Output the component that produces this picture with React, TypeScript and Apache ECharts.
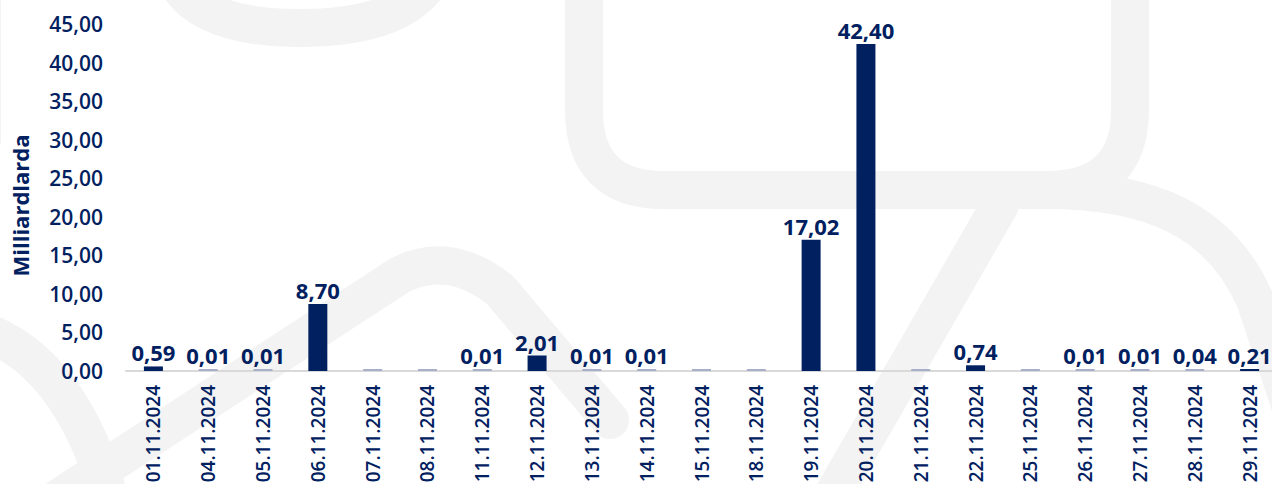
import React, { useEffect, useRef } from "react";
import * as echarts from "echarts";

const categories = [
  "01.11.2024", "04.11.2024", "05.11.2024", "06.11.2024", "07.11.2024",
  "08.11.2024", "11.11.2024", "12.11.2024", "13.11.2024", "14.11.2024",
  "15.11.2024", "18.11.2024", "19.11.2024", "20.11.2024", "21.11.2024",
  "22.11.2024", "25.11.2024", "26.11.2024", "27.11.2024", "28.11.2024",
  "29.11.2024",
];
const values = [
  0.59, 0.01, 0.01, 8.7, 0, 0, 0.01, 2.01, 0.01, 0.01, 0, 0, 17.02, 42.4, 0,
  0.74, 0, 0.01, 0.01, 0.04, 0.21,
];
const yMin = 0;
const yMax = 45;
const yInterval = 5;
const yAxisName = "Milliardlarda";

const NAVY = "#002060";
const FONT = "'Open Sans', 'Noto Sans', sans-serif";

const watermark =
  "M 584 -40 L 584 110 Q 584 190 664 190 L 1046 190 Q 1130 190 1130 110 L 1130 -40 " +
  "M 1046 190 C 1150 190 1220 220 1255 300 L 1295 420 " +
  "M 1000 205 L 830 500 " +
  "M 170 -40 Q 180 28 300 28 Q 420 28 440 -40 " +
  "M -18 -20 L -18 140 " +
  "M 40 510 L 400 275 Q 450 250 500 290 L 610 420 " +
  "M -20 330 Q 70 360 110 500 " +
  "M 1292 -20 L 1292 90";

const fmt = (v: number) => v.toFixed(2).replace(".", ",");

export default function App() {
  const ref = useRef<HTMLDivElement>(null);
  useEffect(() => {
    document.body.style.margin = "0";
    echarts.graphic.registerShape(
      "wm",
      echarts.graphic.extendPath(watermark, {}) as any
    );
    const chart = echarts.init(ref.current!, null, { renderer: "svg" });
    chart.setOption({
      animation: false,
      backgroundColor: "#ffffff",
      graphic: [
        {
          type: "wm",
          x: 0,
          y: 0,
          z: 0,
          silent: true,
          style: {
            fill: "none",
            stroke: "#f3f3f3",
            lineWidth: 38,
            lineCap: "round",
            lineJoin: "round",
          },
        },
      ],
      grid: {
        left: 126,
        right: -5,
        top: 24,
        bottom: 113,
        containLabel: false,
        outerBoundsMode: "none",
      },
      xAxis: {
        type: "category",
        data: categories,
        axisLine: { show: true, lineStyle: { color: "#d9d9d9", width: 2 } },
        axisTick: { show: false },
        axisLabel: {
          rotate: 90,
          interval: 0,
          margin: 14,
          color: NAVY,
          fontFamily: FONT,
          fontWeight: 600,
          fontSize: 19,
        },
      },
      yAxis: {
        type: "value",
        min: yMin,
        max: yMax,
        interval: yInterval,
        name: yAxisName,
        nameLocation: "middle",
        nameGap: 95,
        nameRotate: 90,
        nameTextStyle: {
          color: NAVY,
          fontFamily: FONT,
          fontWeight: 700,
          fontSize: 22,
          padding: [0, 16, 0, 0],
        },
        axisLine: { show: false },
        axisTick: { show: false },
        splitLine: { show: false },
        axisLabel: {
          margin: 23,
          color: NAVY,
          fontFamily: FONT,
          fontWeight: 600,
          fontSize: 21,
          formatter: (v: number) => fmt(v),
        },
      },
      series: [
        {
          type: "bar",
          barWidth: 19,
          barMinHeight: 2,
          z: 3,
          data: values.map((v) => ({
            value: v,
            itemStyle: { color: v < 0.1 ? "#a7b0c8" : NAVY },
            label: { show: v > 0 },
          })),
          label: {
            show: true,
            position: "top",
            distance: 3,
            color: NAVY,
            fontFamily: FONT,
            fontWeight: 700,
            fontSize: 22,
            formatter: (p: any) => fmt(p.value),
          },
        },
      ],
    });
    return () => chart.dispose();
  }, []);
  return <div ref={ref} style={{ width: 1272, height: 484 }} />;
}
